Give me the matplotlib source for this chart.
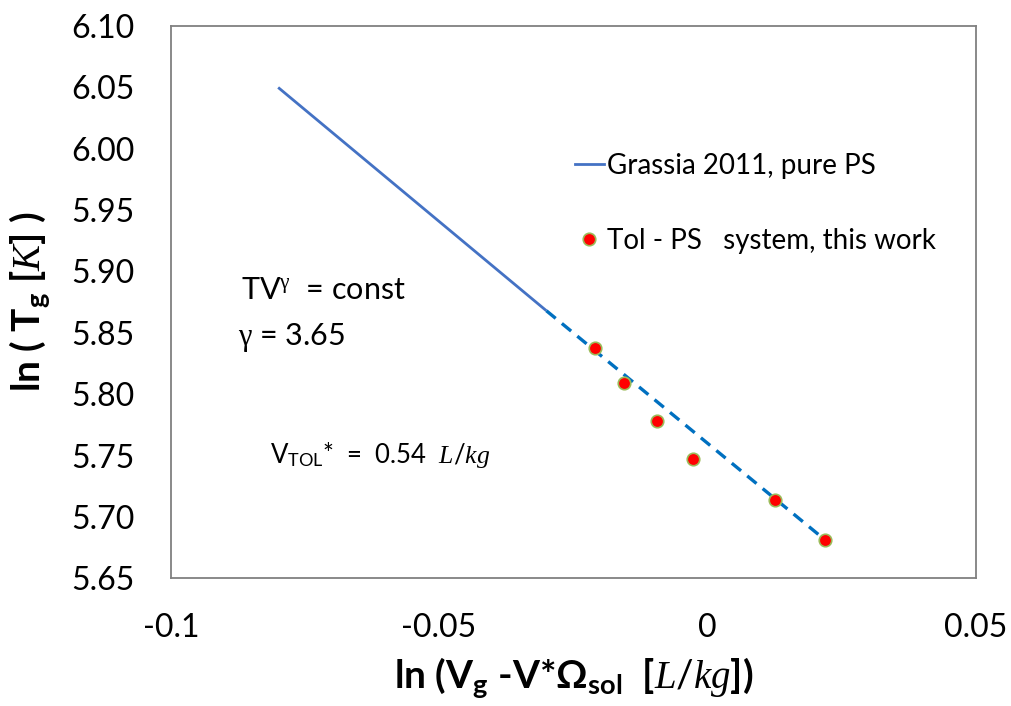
import matplotlib
matplotlib.use("Agg")
from matplotlib import pyplot as plt
from matplotlib.lines import Line2D

plt.rcParams['font.family'] = ['Lato', 'DejaVu Sans']
plt.rcParams['mathtext.fontset'] = 'custom'
plt.rcParams['mathtext.rm'] = 'Lato'
plt.rcParams['mathtext.bf'] = 'Lato:bold'
plt.rcParams['mathtext.it'] = 'Liberation Serif:italic'
plt.rcParams['mathtext.sf'] = 'Lato'
plt.rcParams['mathtext.tt'] = 'Liberation Serif'

# --- data ---
# Grassia 2011 fit, solid part and its dashed extrapolation
fit_x = [-0.08, -0.03]
fit_y = [6.050, 5.868]
ext_x = [-0.03, 0.022]
ext_y = [5.868, 5.681]

# Tol - PS points
tol_x = [-0.0209, -0.0156, -0.0094, -0.0027, 0.0126, 0.0220]
tol_y = [5.838, 5.809, 5.778, 5.747, 5.714, 5.681]

xticks = [-0.1, -0.05, 0, 0.05]
xtick_labels = ['-0.1', '-0.05', '0', '0.05']
yticks = [5.65, 5.70, 5.75, 5.80, 5.85, 5.90, 5.95, 6.00, 6.05, 6.10]


fig = plt.figure(figsize=(10.11, 7.06), dpi=100)
fig.patch.set_facecolor('w')
ax = fig.add_axes([0.169, 0.181, 0.796, 0.782])

ax.plot(fit_x, fit_y, color='#4472C4', lw=2.0, solid_capstyle='butt')
ax.plot(ext_x, ext_y, color='#0070C0', lw=2.4, dashes=(3.6, 2.4))
ax.plot(tol_x, tol_y, ls='none', marker='o', ms=9, mfc='#FF0000',
        mec='#9BBB59', mew=1.2, zorder=3)

ax.set_xlim(-0.1, 0.05)
ax.set_ylim(5.65, 6.10)
ax.set_xticks(xticks)
ax.set_xticklabels(xtick_labels)
ax.set_yticks(yticks)
ax.set_yticklabels(['%.2f' % v for v in yticks])
ax.tick_params(length=0, labelsize=23)
ax.tick_params(axis='y', pad=26)
ax.tick_params(axis='x', pad=25)
for s in ax.spines.values():
	s.set_color('#808080')
	s.set_linewidth(1.3)

ax.set_ylabel(r'$\mathbf{ln\ (\ T_g\ [}\mathit{K}\mathbf{]\ )}$', fontsize=28, labelpad=14)
ax.set_xlabel('$\\mathbf{ln\\ (V_g\\ \u2010V{*}\\Omega_{sol}\\ \\ [}\\mathit{L/kg}\\mathbf{])}$',
              fontsize=28, labelpad=9)

# annotations
ax.text(0.087, 0.505, r'TV$^{\mathtt{\gamma}}$  = const', transform=ax.transAxes, fontsize=22, va='baseline')
ax.text(0.083, 0.422, r'$\mathtt{\gamma}$ = 3.65', transform=ax.transAxes, fontsize=22, va='baseline')
ax.text(0.123, 0.208, r'V$_{\mathrm{TOL}}$*  =  0.54  $\mathit{L/kg}$', transform=ax.transAxes,
        fontsize=18.5, va='baseline')

# legend
handles = [Line2D([], [], color='#4472C4', lw=2.0),
           Line2D([], [], ls='none', marker='o', ms=9, mfc='#FF0000', mec='#9BBB59', mew=1.2)]
labels = ['Grassia 2011, pure PS', 'Tol - PS   system, this work']
ax.legend(handles, labels, loc='center left', bbox_to_anchor=(0.502, 0.679), frameon=False,
          fontsize=20, handlelength=1.05, handletextpad=0.12, labelspacing=1.75,
          borderpad=0, borderaxespad=0)

fig.savefig('out.png', dpi=100)
